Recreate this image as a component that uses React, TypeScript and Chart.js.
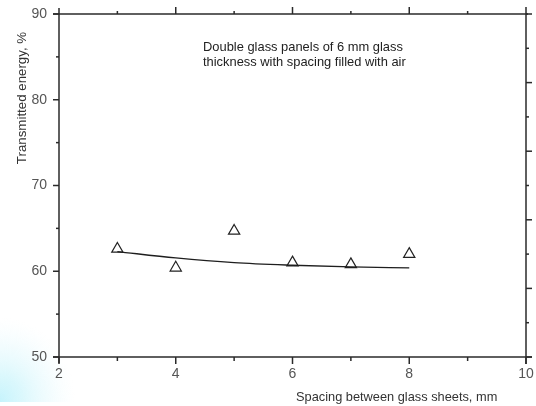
import React, { useEffect, useRef } from "react";
import { Chart, registerables } from "chart.js";

Chart.register(...registerables);

// Measured transmitted energy for each glass spacing
const spacingMm = [3, 4, 5, 6, 7, 8];
const transmittedPct = [62.6, 60.4, 64.7, 61.0, 60.8, 62.0];

// Smoothed trend curve through the measurements
const fitSpacing = [3, 4, 5, 6, 7, 8];
const fitPct = [62.3, 61.55, 61.0, 60.7, 60.5, 60.4];

// Axis tick positions
const xMajorTicks = [2, 4, 6, 8, 10];
const xMinorTicks = [3, 5, 7, 9];
const topMajorTicks = [4, 6, 8];
const topMinorTicks = [3, 5, 7, 9];
const yMajorTicks = [50, 60, 70, 80, 90];
const yMinorTicks = [55, 65, 75, 85];
const rightLongTicks = [50, 58, 66, 74, 82, 90];
const rightShortTicks = [54, 62, 70, 78, 86];

const yTitle = "Transmitted energy, %";
const xTitle = "Spacing between glass sheets, mm";
const noteLines = [
  "Double glass panels of 6 mm glass",
  "thickness with spacing filled with air",
];

const FONT = '"Liberation Sans", Arial, sans-serif';

const framePlugin = {
  id: "frame",
  beforeDraw(chart: any) {
    const ctx = chart.ctx;
    ctx.save();
    // faint cyan tint in the lower-left corner
    ctx.beginPath();
    ctx.rect(0, 300, 110, 102);
    ctx.clip();
    ctx.translate(0, 400);
    ctx.scale(1, 1.1);
    const g = ctx.createRadialGradient(0, 0, 0, 0, 0, 75);
    g.addColorStop(0, "rgba(195,243,252,0.95)");
    g.addColorStop(0.3, "rgba(210,246,252,0.8)");
    g.addColorStop(0.7, "rgba(228,249,253,0.4)");
    g.addColorStop(1, "rgba(240,252,254,0)");
    ctx.fillStyle = g;
    ctx.fillRect(-10, -100, 120, 110);
    ctx.restore();
  },
  afterDatasetsDraw(chart: any) {
    const ctx = chart.ctx;
    const xs = chart.scales.x;
    const ys = chart.scales.y;
    const L = xs.getPixelForValue(2);
    const R = xs.getPixelForValue(10);
    const T = ys.getPixelForValue(90);
    const B = ys.getPixelForValue(50);
    ctx.save();
    ctx.strokeStyle = "#2a2a2a";
    ctx.lineWidth = 1.5;
    ctx.lineCap = "butt";
    const line = (x1: number, y1: number, x2: number, y2: number) => {
      ctx.beginPath();
      ctx.moveTo(x1, y1);
      ctx.lineTo(x2, y2);
      ctx.stroke();
    };
    // frame
    line(L, T - 6, L, B + 6);
    line(R, T - 7, R, B + 7);
    line(L - 6, T, R + 2, T);
    line(L - 6, B, R + 6, B);
    // bottom ticks
    xMajorTicks.forEach((v) => {
      const x = xs.getPixelForValue(v);
      line(x, B, x, B + 7);
    });
    xMinorTicks.forEach((v) => {
      const x = xs.getPixelForValue(v);
      line(x, B, x, B + 4);
    });
    // top ticks
    topMajorTicks.forEach((v) => {
      const x = xs.getPixelForValue(v);
      line(x, T, x, T - 7);
    });
    topMinorTicks.forEach((v) => {
      const x = xs.getPixelForValue(v);
      line(x, T, x, T - 3);
    });
    // left ticks
    yMajorTicks.forEach((v) => {
      const y = ys.getPixelForValue(v);
      line(L, y, L - 6, y);
    });
    yMinorTicks.forEach((v) => {
      const y = ys.getPixelForValue(v);
      line(L, y, L - 3, y);
    });
    // right ticks
    rightLongTicks.forEach((v) => {
      const y = ys.getPixelForValue(v);
      line(R, y, R + 6, y);
    });
    rightShortTicks.forEach((v) => {
      const y = ys.getPixelForValue(v);
      line(R, y, R + 3, y);
    });

    // titles and note
    ctx.fillStyle = "#333";
    ctx.font = `12.8px ${FONT}`;
    ctx.textBaseline = "middle";
    ctx.textAlign = "left";
    ctx.fillText(xTitle, 296, 397);
    ctx.fillStyle = "#222";
    ctx.font = `12.9px ${FONT}`;
    ctx.fillText(noteLines[0], 203, 47);
    ctx.fillText(noteLines[1], 203, 62);
    ctx.save();
    ctx.translate(22, 98);
    ctx.rotate(-Math.PI / 2);
    ctx.textAlign = "center";
    ctx.fillStyle = "#333";
    ctx.font = `13.3px ${FONT}`;
    ctx.fillText(yTitle, 0, 0);
    ctx.restore();
    ctx.restore();
  },
};

export default function App() {
  const ref = useRef<HTMLCanvasElement | null>(null);

  useEffect(() => {
    if (!ref.current) return;
    const chart = new Chart(ref.current, {
      type: "scatter",
      data: {
        datasets: [
          {
            type: "line",
            label: "fit",
            data: fitSpacing.map((x, i) => ({ x, y: fitPct[i] })),
            borderColor: "#1e1e1e",
            borderWidth: 1.3,
            pointRadius: 0,
            cubicInterpolationMode: "monotone",
            fill: false,
          },
          {
            label: "measured",
            data: spacingMm.map((x, i) => ({ x, y: transmittedPct[i] })),
            pointStyle: "triangle",
            pointRadius: 6.5,
            borderColor: "#222",
            borderWidth: 1.2,
            backgroundColor: "rgba(0,0,0,0)",
          },
        ],
      },
      options: {
        animation: false,
        responsive: false,
        events: [],
        layout: { padding: { left: 0, top: 14, right: 10, bottom: 0 } },
        plugins: {
          legend: { display: false },
          tooltip: { enabled: false },
          title: { display: false },
        },
        scales: {
          x: {
            type: "linear",
            min: 2,
            max: 10,
            afterFit: (s: any) => {
              s.height = 49;
              s.paddingLeft = 0;
              s.paddingRight = 0;
            },
            grid: { display: false, drawTicks: false },
            border: { display: false },
            ticks: {
              stepSize: 2,
              padding: 9,
              color: "#555",
              font: { family: FONT, size: 14 },
            },
          },
          y: {
            type: "linear",
            min: 50,
            max: 90,
            afterFit: (s: any) => {
              s.width = 59;
              s.paddingTop = 0;
              s.paddingBottom = 0;
            },
            grid: { display: false, drawTicks: false },
            border: { display: false },
            ticks: {
              stepSize: 10,
              padding: 12,
              color: "#555",
              font: { family: FONT, size: 14 },
            },
          },
        },
      },
      plugins: [framePlugin],
    } as any);
    return () => chart.destroy();
  }, []);

  return (
    <div style={{ position: "fixed", left: 0, top: 0, width: 536, height: 406, background: "#fff" }}>
      <canvas ref={ref} width={536} height={406} style={{ display: "block" }} />
    </div>
  );
}
